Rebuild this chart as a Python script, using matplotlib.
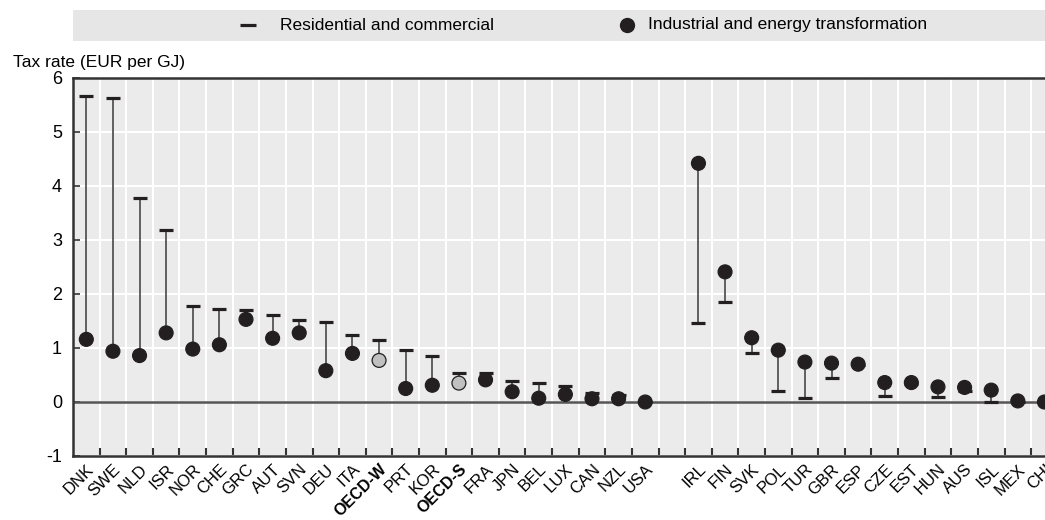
import numpy as np
import matplotlib
matplotlib.use("Agg")
import matplotlib.pyplot as plt
import matplotlib.transforms as mtransforms
from matplotlib.lines import Line2D
from matplotlib.patches import Rectangle

plt.rcParams['font.family'] = ['Liberation Sans', 'DejaVu Sans']
plt.rcParams['axes.unicode_minus'] = False

# countries, left block then right block (one empty slot in between)
left_countries = ['DNK', 'SWE', 'NLD', 'ISR', 'NOR', 'CHE', 'GRC', 'AUT', 'SVN', 'DEU', 'ITA',
                  'OECD-W', 'PRT', 'KOR', 'OECD-S', 'FRA', 'JPN', 'BEL', 'LUX', 'CAN', 'NZL', 'USA']
left_res = [5.66, 5.63, 3.78, 3.18, 1.77, 1.72, 1.70, 1.62, 1.51, 1.49, 1.25,
            1.15, 0.96, 0.86, 0.54, 0.54, 0.38, 0.35, 0.29, 0.17, 0.13, 0.0]
left_ind = [1.16, 0.94, 0.86, 1.28, 0.98, 1.06, 1.53, 1.18, 1.28, 0.58, 0.90,
            0.77, 0.25, 0.31, 0.35, 0.41, 0.19, 0.07, 0.14, 0.06, 0.06, 0.0]

right_countries = ['IRL', 'FIN', 'SVK', 'POL', 'TUR', 'GBR', 'ESP', 'CZE', 'EST', 'HUN',
                   'AUS', 'ISL', 'MEX', 'CHI']
right_res = [1.46, 1.85, 0.91, 0.20, 0.08, 0.44, 0.68, 0.12, 0.34, 0.09, 0.20, 0.0, 0.0, 0.0]
right_ind = [4.42, 2.41, 1.19, 0.96, 0.74, 0.72, 0.70, 0.36, 0.36, 0.28, 0.27, 0.22, 0.02, 0.0]

oecd_avgs = ['OECD-W', 'OECD-S']

countries = left_countries + [''] + right_countries
res = np.array(left_res + [np.nan] + right_res)
ind = np.array(left_ind + [np.nan] + right_ind)
x = np.arange(len(countries))

dark = '#231f20'
bg = '#ebebeb'

fig = plt.figure(figsize=(10.45, 5.2), dpi=100)
ax = fig.add_axes([73/1045, 1 - 456/520, 1 - 73/1045 + 0.002, (456 - 78)/520])
ax.set_facecolor(bg)

# grid
ax.set_xticks(x[:-1] + 0.5, minor=True)
ax.grid(True, which='minor', axis='x', color='white', lw=1.5)
ax.grid(True, which='major', axis='y', color='white', lw=1.5)
ax.set_axisbelow(True)
ax.axhline(0, color='#555555', lw=1.8, zorder=1.5)

for i in range(len(countries)):
    if np.isnan(res[i]):
        continue
    ax.plot([x[i], x[i]], [res[i], ind[i]], color='#555555', lw=1.3, zorder=2)

ax.plot(x, res, ls='none', marker='_', ms=10.5, mew=2.3, color=dark, zorder=3)
face = ['#c0c0c0' if c in oecd_avgs else dark for c in countries]
ax.scatter(x, ind, s=100, c=face, edgecolors=dark, linewidths=0.9, zorder=4)

ax.set_xlim(-0.5, 36.1)
ax.set_ylim(-1, 6)
ax.set_yticks(range(-1, 7))
ax.set_xticks(x)
ax.set_xticklabels(countries, rotation=45, ha='right', rotation_mode='anchor', fontsize=12)
shift = mtransforms.ScaledTranslation(6/100, 0, fig.dpi_scale_trans)
for lab in ax.get_xticklabels():
    lab.set_transform(lab.get_transform() + shift)
    if lab.get_text() in oecd_avgs:
        lab.set_fontweight('bold')
        lab.set_fontsize(11.5)
ax.tick_params(axis='x', which='major', length=0, pad=4)
ax.tick_params(axis='x', which='minor', direction='in', length=6, width=1.5, color='#333333')
ax.tick_params(axis='y', direction='in', length=5, width=1.2, color='#333333', labelsize=13, pad=8)
for s in ['left', 'bottom', 'top']:
    ax.spines[s].set_color('#333333')
    ax.spines[s].set_linewidth(1.8)
ax.spines['right'].set_visible(False)

fig.text(13/1045, 1 - 62/520, 'Tax rate (EUR per GJ)', fontsize=12.5, va='center', ha='left')

# legend band
fig.patches.append(Rectangle((73/1045, 1 - 41/520), 1, 31/520, transform=fig.transFigure,
                             facecolor='#e6e6e6', edgecolor='none', zorder=0))
fig.add_artist(Line2D([248/1045], [1 - 25/520], transform=fig.transFigure, ls='none',
                      marker='_', ms=11, mew=2.3, color=dark))
fig.text(280/1045, 1 - 25/520, 'Residential and commercial', fontsize=12.5, va='center', ha='left')
fig.add_artist(Line2D([627/1045], [1 - 25/520], transform=fig.transFigure, ls='none',
                      marker='o', ms=10, color=dark))
fig.text(648/1045, 1 - 25/520, 'Industrial and energy transformation', fontsize=12.5,
         va='center', ha='left')

fig.savefig('out.png', dpi=100)
